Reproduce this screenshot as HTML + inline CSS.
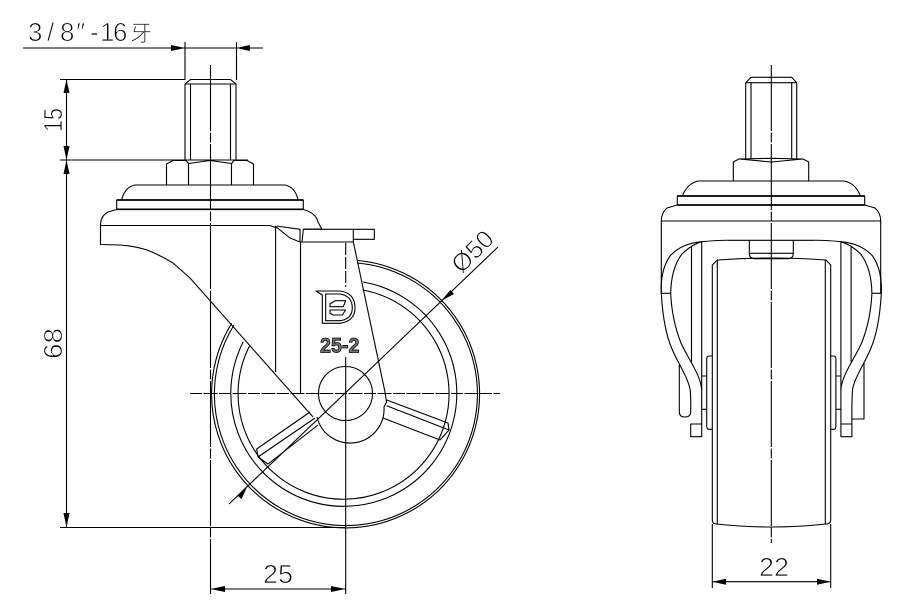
<!DOCTYPE html>
<html><head><meta charset="utf-8"><style>
html,body{margin:0;padding:0;background:#fff}
svg{display:block}
text{font-family:"Liberation Sans","WenQuanYi Zen Hei","Noto Sans CJK SC",sans-serif;fill:#000;stroke:#fff;stroke-width:.85}
.l{fill:none;stroke:#000;stroke-width:1.1;stroke-linejoin:round}
.c{fill:none;stroke:#000;stroke-width:1.1;stroke-dasharray:66 1.5 10 1.5}
.t{fill:none;stroke:#000;stroke-width:1.7}
</style></head><body>
<svg width="899" height="614" viewBox="0 0 899 614" xmlns="http://www.w3.org/2000/svg">
<rect width="899" height="614" fill="#fff"/>

<!-- dimension texts -->
<text y="41" font-size="26" x="28 47 60 76 90 100 113">3/8″-16<tspan x="130" font-size="22" y="41">牙</tspan></text>
<text transform="translate(62,132) rotate(-90)" font-size="26" textLength="24" lengthAdjust="spacingAndGlyphs">15</text>
<text transform="translate(62,359) rotate(-90)" font-size="26" textLength="31" lengthAdjust="spacingAndGlyphs">68</text>
<text x="263" y="583" font-size="26" textLength="30" lengthAdjust="spacingAndGlyphs">25</text>
<text x="759" y="576" font-size="26" textLength="30" lengthAdjust="spacingAndGlyphs">22</text>
<text transform="translate(461.500,274.500) rotate(-45)" font-size="25" textLength="48" lengthAdjust="spacingAndGlyphs">Ø50</text>

<!-- LEFT VIEW dimension lines -->
<g class="l">
<path d="M23 48H263M185 42V80M236.500 42V80"/>
<path d="M60 79.500H185M60 160H248M66.500 79.500V527.500M60 527.500H345"/>
<path d="M210.500 589H345.500M229 504L498 247"/>
</g>
<g fill="#000">
<polygon points="185,48 171,45 171,51"/>
<polygon points="236.500,48 250,45 250,51"/>
<polygon points="66.500,79.500 63.500,93 69.500,93"/>
<polygon points="66.500,160 63.500,146 69.500,146"/>
<polygon points="66.500,160 63.500,174 69.500,174"/>
<polygon points="66.500,527.500 63.500,513 69.500,513"/>
<polygon points="210.500,589 225,586 225,592"/>
<polygon points="345.500,589 331,586 331,592"/>
<polygon points="441,301 450.500,290 454,294"/>
<polygon points="248,485 238,496 241.500,499"/>
</g>

<!-- wheel -->
<g class="l">
<path d="M358 260.500A134 134 0 1 1 231.700 323.300"/>
<path d="M357 263A131.500 131.500 0 1 1 234 325"/>
<path d="M363 282A113 113 0 1 1 243.300 341.700"/>
<path d="M362.700 290A105.500 105.500 0 1 1 250 345"/>
<circle cx="345.500" cy="393.500" r="27"/>
<!-- spokes -->
<path d="M386.700 400L448 423L449 430L440 440L383 418M386.700 405.700L449 430"/>
<path d="M310 412L256.700 449L258 457L268 464L318 425M315 418L258 457"/>
</g>

<!-- LEFT fork and stem -->
<g class="l">
<path d="M185 160V84L190.500 79.500H230.500L236 84V160M185 84H236M190.500 84V160M230.500 84V160"/>
<path d="M166.500 185V164L173 160.500H186L188.500 163.500L210 160.500L231.500 163.500L234 160.500H247L253.500 164V185M188.500 163.500V185M231.500 163.500V185"/>
<path d="M121.700 199.500Q125 187 135 185H285Q295 187 298 199.500"/>
<path d="M116.700 200H303.300V209.300H116.700Z"/>
<path d="M116.700 209.500L108 212Q100.500 216 100.500 225.500V244.500L120 245Q135 246 147 250Q160 255 173 263L190 278L313 417"/>
<path d="M303.300 209.500Q316 213 318 222L321.700 229H303.300"/>
<path d="M100.500 225.500H270L276.700 228M276.700 226L300 229.300V242M275 226L290 238L300 242H353.300M303.300 229.300H353.300V241.700M303.300 229.300L302 242M353.300 229.300H374.300V239.300H353.300M275.600 228V372M300.500 242V393"/>
<path d="M353.300 241.700L385 392L386.500 402L384 407A34 34 0 0 1 317 417"/>
<!-- logo -->
<path d="M316 291H340Q355 293 355 308Q355 321 340 323.300H322.300V295Z"/>
<path d="M325.700 294H340Q352.300 296 352.300 308Q352.300 319 340 320.700H325.700Z"/>
<path d="M330 304L335 300.700H345.700L343.300 306.700H330ZM330 310H345.700L342.300 315H333.300L330 313.300Z"/>
</g>
<text x="320" y="352.500" font-size="21.500" font-weight="bold" textLength="39.500" lengthAdjust="spacingAndGlyphs" style="fill:#777;stroke:#000;stroke-width:.8">25-2</text>

<path class="t" d="M116.700 200H303.300M116.700 209.300H303.300"/>

<!-- center lines LEFT -->
<path class="c" d="M210.500 65V594"/>
<path class="c" d="M190 393.500H500" style="stroke-dasharray:12 1.500 14 1.500"/>
<path class="l" d="M345.700 243V287" style="stroke-dasharray:12 2"/>
<path class="l" d="M345.700 357V594"/>

<!-- RIGHT VIEW -->
<g class="l">
<path d="M745.700 158.300V82.700L751 77.300H791.700L796.700 82.700V158.300M745.700 82.700H796.700M751 82.700V158.300M791.700 82.700V158.300"/>
<path d="M733.300 181V162L739 159L771.300 158.300L803 159L808.700 162V181M739 159L771.300 162L803 159"/>
<path d="M682.700 195Q688 183 698.300 181H844Q855 183 860 195"/>
<path d="M677.300 196H864.700V205H677.300Z"/>
<path d="M677 205L667 208Q661.300 213 661.300 221V293.300M864.700 205L875 208Q880.700 213 880.700 221V293.300M661.300 221H880.700"/>
<path d="M701.700 241.700Q720 240 730 240.300H812Q825 240 840.900 241.700"/>
<path d="M749.300 240.700V253.300Q749.300 258.700 755 258.700H788Q793.300 258.700 793.300 253.300V240.700M749.300 253.300H793.300"/>
<!-- wheel -->
<path d="M712.300 520V265L717.300 260Q771 256 826 260L830.700 265V520Q830.700 524 826 524Q771 530 716.500 524Q712.300 524 712.300 520Z"/>
<path d="M717.300 260V524M825.300 260V524"/>
<path d="M712.300 581.700H830.700M712.300 524V588M830.700 524V588"/>

<!-- left arm -->
<path d="M661.300 293.300H670.700"/>
<path d="M661.300 293.300C660.500 280 663 266 670 256C679 246 690 243 701.700 241.700"/>
<path d="M670.700 293.300C671 276 675 263 682 254C688 248 694 244 701.700 241.700"/>
<path d="M661.300 293.300C662.500 315 666 335 672 349C678 363 688 378 690 389Q690.900 393 690.700 413Q690 417 685 417Q679.300 417 679.300 411.700V365"/>
<path d="M670.700 293.300C671.500 311 675 328 681 343C687 357 701 375 701.700 390"/>
<path d="M691.500 246V362M701.700 241.700V436.700H690.700V424H701.700"/>
<path d="M701.700 376H706.700M701.700 409.300H706.700"/>
<path d="M712.300 356H709Q706.700 356 706.700 359V426Q706.700 429.300 709 429.300H712.300"/>

<!-- right arm (mirror) -->
<g transform="translate(1542.600,0) scale(-1,1)">
<path d="M661.300 293.300H670.700"/>
<path d="M661.300 293.300C660.500 280 663 266 670 256C679 246 690 243 701.700 241.700"/>
<path d="M670.700 293.300C671 276 675 263 682 254C688 248 694 244 701.700 241.700"/>
<path d="M661.300 293.300C662.500 315 666 335 672 349C678 363 688 378 690 389Q690.900 400 690.700 424"/>
<path d="M670.700 293.300C671.500 311 675 328 681 343C687 357 701 375 701.700 390"/>
<path d="M691.500 246V362M701.700 241.700V436.700H690.700V424H701.700"/>
<path d="M701.700 376H706.700M701.700 409.300H706.700"/>
<path d="M712.300 356H709Q706.700 356 706.700 359V426Q706.700 429.300 709 429.300H712.300"/>
</g>
<path d="M864 363V419H851.700"/>
</g>
<path class="t" d="M677.300 196H864.700M677.300 205H864.700"/>
<g fill="#000">
<polygon points="712.300,581.700 726,578.700 726,584.700"/>
<polygon points="830.700,581.700 817,578.700 817,584.700"/>
</g>
<path class="c" d="M771.300 65V543"/>
</svg>
</body></html>
